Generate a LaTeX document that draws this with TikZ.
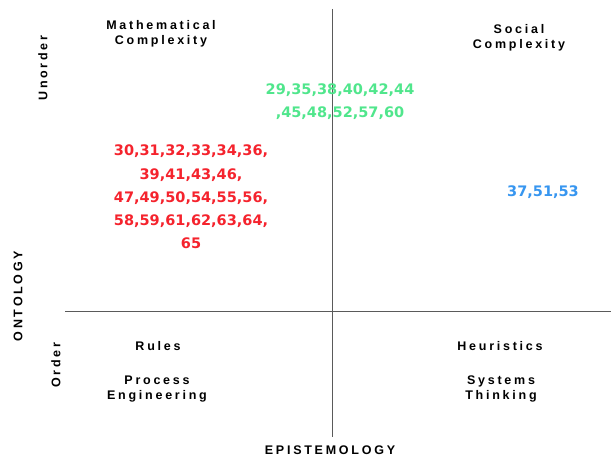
\documentclass[tikz,border=0pt]{standalone}
\usepackage{fontspec}
\setmainfont{Liberation Sans}
\newfontfamily\spacedfont[LetterSpace=22]{Liberation Sans}
\newfontfamily\handfont{DejaVu Sans}
\definecolor{axisgray}{RGB}{90,90,90}
\definecolor{numgreen}{RGB}{80,230,140}
\definecolor{numred}{RGB}{245,35,45}
\definecolor{numblue}{RGB}{55,150,240}
\tikzset{
  lbl/.style={font=\spacedfont\bfseries\fontsize{12.5}{15.5}\selectfont, align=center, inner sep=0pt, text=black},
  nums/.style={font=\handfont\bfseries\fontsize{14.5}{23.2}\selectfont, align=center, inner sep=0pt},
  axisline/.style={draw=axisgray, line width=0.9pt}
}
\begin{document}
\begin{tikzpicture}[x=1pt,y=-1pt]
\useasboundingbox[fill=white] (0,0) rectangle (611,457);
\coordinate (vtop) at (332,9);
\coordinate (vbot) at (332,437);
\coordinate (hl) at (65,311);
\coordinate (hr) at (611,311);
\draw[axisline] (vtop) -- (vbot);
\draw[axisline] (hl) -- (hr);
\node[lbl] (math) at (161,34) {Mathematical\\Complexity};
\node[lbl] (social) at (519,38) {Social\\Complexity};
\node[lbl, rotate=90] (unorder) at (43,68) {Unorder};
\node[lbl, rotate=90] (onto) at (18,296) {ONTOLOGY};
\node[lbl, rotate=90] (order) at (56,365) {Order};
\node[lbl] (rules) at (158,346) {Rules};
\node[lbl] (proc) at (157,389) {Process\\Engineering};
\node[lbl] (heur) at (500,346) {Heuristics};
\node[lbl] (sys) at (501,389) {Systems\\Thinking};
\node[lbl] (epis) at (330,450) {EPISTEMOLOGY};
\node[nums, text=numgreen] (green) at (340,102) {29,35,38,40,42,44\\,45,48,52,57,60};
\node[nums, text=numred] (red) at (191,197) {30,31,32,33,34,36,\\39,41,43,46,\\47,49,50,54,55,56,\\58,59,61,62,63,64,\\65};
\node[nums, text=numblue] (blue) at (543,192) {37,51,53};
\end{tikzpicture}
\end{document}
